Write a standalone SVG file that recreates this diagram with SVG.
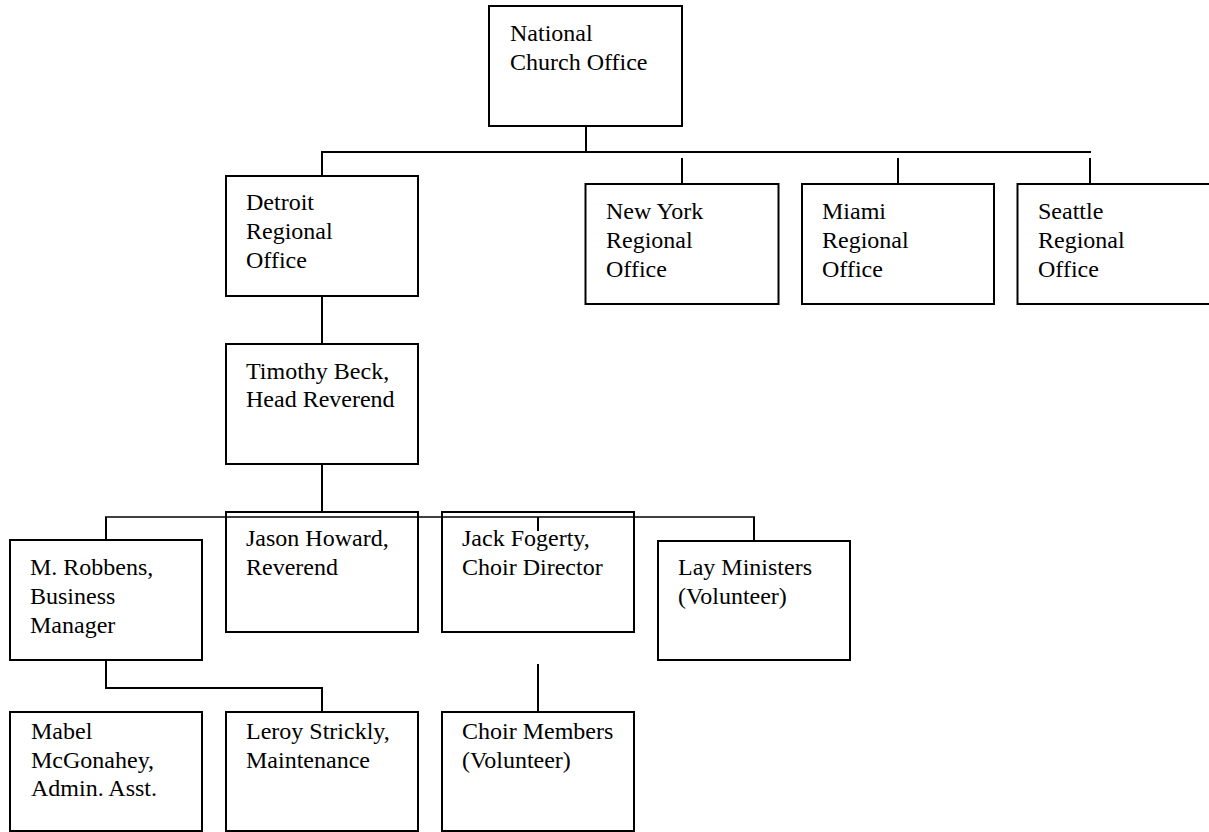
<svg xmlns="http://www.w3.org/2000/svg" width="1209" height="832" viewBox="0 0 1209 832">
<style>
.box{fill:#fff;stroke:#000;stroke-width:2}
.t{font-family:"Liberation Serif","Times New Roman",serif;font-size:24px;fill:#000}
.c{stroke:#000;stroke-width:2;fill:none}
.c2{stroke:#000;stroke-width:1.5;fill:none}
</style>
<rect width="1209" height="832" fill="#fff"/>
<g id="connectors">
<line class="c" x1="586" y1="126" x2="586" y2="152"/>
<line class="c" x1="321" y1="152" x2="1091" y2="152"/>
<line class="c" x1="322" y1="151" x2="322" y2="176"/>
<line class="c" x1="682" y1="158" x2="682" y2="184"/>
<line class="c" x1="898" y1="158" x2="898" y2="184"/>
<line class="c" x1="1090" y1="158" x2="1090" y2="184"/>
<line class="c" x1="322" y1="296" x2="322" y2="344"/>
<line class="c" x1="322" y1="464" x2="322" y2="512"/>
<line class="c" x1="106" y1="517" x2="106" y2="540"/>
<line class="c" x1="754" y1="517" x2="754" y2="541"/>
<line class="c" x1="106" y1="660" x2="106" y2="688"/>
<line class="c" x1="105" y1="688" x2="323" y2="688"/>
<line class="c" x1="322" y1="687" x2="322" y2="712"/>
<line class="c" x1="538" y1="664" x2="538" y2="712"/>
</g>
<g id="national"><rect class="box" x="489" y="6" width="193" height="120"/><text class="t" x="510" y="41">National</text><text class="t" x="510" y="69.5">Church Office</text></g>
<g id="detroit"><rect class="box" x="226" y="176" width="192" height="120"/><text class="t" x="246" y="210">Detroit</text><text class="t" x="246" y="239">Regional</text><text class="t" x="246" y="268">Office</text></g>
<g id="newyork"><rect class="box" x="585.5" y="184" width="193" height="120"/><text class="t" x="606" y="218.5">New York</text><text class="t" x="606" y="247.5">Regional</text><text class="t" x="606" y="276.5">Office</text></g>
<g id="miami"><rect class="box" x="802" y="184" width="192" height="120"/><text class="t" x="822" y="218.5">Miami</text><text class="t" x="822" y="247.5">Regional</text><text class="t" x="822" y="276.5">Office</text></g>
<g id="seattle"><rect class="box" x="1017.5" y="184" width="193" height="120"/><text class="t" x="1038" y="218.5">Seattle</text><text class="t" x="1038" y="247.5">Regional</text><text class="t" x="1038" y="276.5">Office</text></g>
<g id="timothy"><rect class="box" x="226" y="344" width="192" height="120"/><text class="t" x="246" y="378.5">Timothy Beck,</text><text class="t" x="246" y="407">Head Reverend</text></g>
<g id="robbens"><rect class="box" x="10" y="540" width="192" height="120"/><text class="t" x="30" y="575">M. Robbens,</text><text class="t" x="30" y="604">Business</text><text class="t" x="30" y="633">Manager</text></g>
<g id="jason"><rect class="box" x="226" y="512" width="192" height="120"/><text class="t" x="246" y="546">Jason Howard,</text><text class="t" x="246" y="574.5">Reverend</text></g>
<g id="jack"><rect class="box" x="442" y="512" width="192" height="120"/><text class="t" x="462" y="546">Jack Fogerty,</text><text class="t" x="462" y="574.5">Choir Director</text></g>
<g id="lay"><rect class="box" x="658" y="541" width="192" height="119"/><text class="t" x="678" y="575">Lay Ministers</text><text class="t" x="678" y="603.5">(Volunteer)</text></g>
<g id="connectors-over">
<line class="c2" x1="105" y1="517" x2="755" y2="517"/>
<line class="c" x1="538" y1="517" x2="538" y2="531"/>
</g>
<g id="mabel"><rect class="box" x="10" y="712" width="192" height="119"/><text class="t" x="31" y="738.5">Mabel</text><text class="t" x="31" y="767.5">McGonahey,</text><text class="t" x="31" y="796">Admin. Asst.</text></g>
<g id="leroy"><rect class="box" x="226" y="712" width="192" height="119"/><text class="t" x="246" y="738.5">Leroy Strickly,</text><text class="t" x="246" y="767.5">Maintenance</text></g>
<g id="choir"><rect class="box" x="442" y="712" width="192" height="119"/><text class="t" x="462" y="738.5">Choir Members</text><text class="t" x="462" y="767.5">(Volunteer)</text></g>
</svg>
